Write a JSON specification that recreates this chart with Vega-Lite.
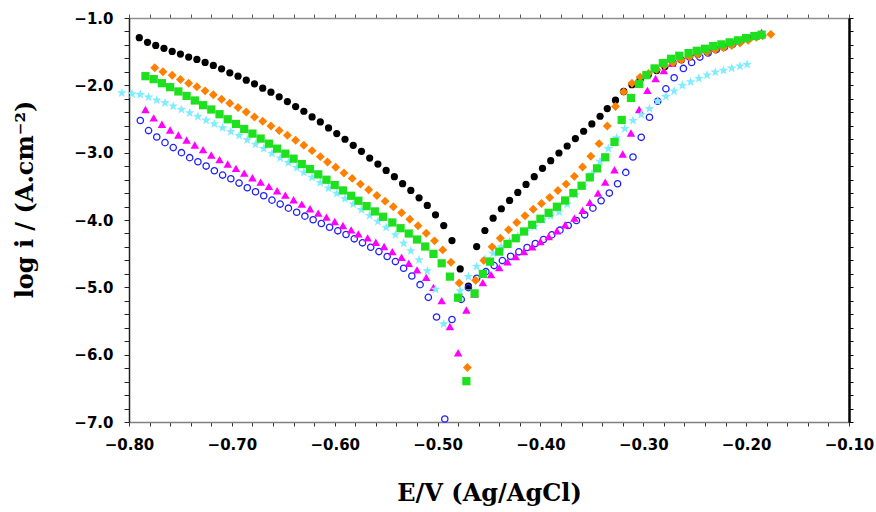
{
  "$schema": "https://vega.github.io/schema/vega-lite/v6.json",
  "width": 720,
  "height": 404,
  "autosize": {"type": "none"},
  "padding": {"left": 129, "top": 18, "right": 27, "bottom": 90},
  "background": "white",
  "config": {"view": {"stroke": null}},
  "datasets": {
    "k": [
      {"E":-0.790,"L":-1.293},{"E":-0.782,"L":-1.362},{"E":-0.774,"L":-1.407},{"E":-0.766,"L":-1.451},{"E":-0.758,"L":-1.496},{"E":-0.750,"L":-1.536},{"E":-0.742,"L":-1.581},{"E":-0.734,"L":-1.615},{"E":-0.726,"L":-1.660},{"E":-0.718,"L":-1.704},{"E":-0.710,"L":-1.755},{"E":-0.702,"L":-1.814},{"E":-0.694,"L":-1.864},{"E":-0.686,"L":-1.923},{"E":-0.678,"L":-1.978},{"E":-0.670,"L":-2.042},{"E":-0.662,"L":-2.102},{"E":-0.654,"L":-2.171},{"E":-0.646,"L":-2.241},{"E":-0.638,"L":-2.315},{"E":-0.630,"L":-2.385},{"E":-0.622,"L":-2.469},{"E":-0.614,"L":-2.544},{"E":-0.606,"L":-2.633},{"E":-0.598,"L":-2.717},{"E":-0.590,"L":-2.801},{"E":-0.582,"L":-2.891},{"E":-0.574,"L":-2.980},{"E":-0.566,"L":-3.080},{"E":-0.558,"L":-3.169},{"E":-0.550,"L":-3.263},{"E":-0.542,"L":-3.357},{"E":-0.534,"L":-3.461},{"E":-0.526,"L":-3.561},{"E":-0.518,"L":-3.670},{"E":-0.510,"L":-3.784},{"E":-0.502,"L":-3.923},{"E":-0.494,"L":-4.082},{"E":-0.486,"L":-4.305},{"E":-0.478,"L":-4.727},{"E":-0.470,"L":-4.980},{"E":-0.462,"L":-4.394},{"E":-0.454,"L":-4.156},{"E":-0.446,"L":-3.973},{"E":-0.438,"L":-3.833},{"E":-0.430,"L":-3.710},{"E":-0.422,"L":-3.590},{"E":-0.414,"L":-3.471},{"E":-0.406,"L":-3.357},{"E":-0.398,"L":-3.233},{"E":-0.390,"L":-3.119},{"E":-0.382,"L":-3.005},{"E":-0.374,"L":-2.901},{"E":-0.366,"L":-2.791},{"E":-0.358,"L":-2.682},{"E":-0.350,"L":-2.573},{"E":-0.342,"L":-2.459},{"E":-0.335,"L":-2.345},{"E":-0.327,"L":-2.221},{"E":-0.319,"L":-2.090},{"E":-0.311,"L":-1.990},{"E":-0.303,"L":-1.910},{"E":-0.295,"L":-1.840},{"E":-0.287,"L":-1.780},{"E":-0.279,"L":-1.720},{"E":-0.271,"L":-1.670},{"E":-0.263,"L":-1.620},{"E":-0.255,"L":-1.580},{"E":-0.247,"L":-1.540},{"E":-0.238,"L":-1.500},{"E":-0.230,"L":-1.460},{"E":-0.222,"L":-1.430},{"E":-0.214,"L":-1.390},{"E":-0.206,"L":-1.350},{"E":-0.198,"L":-1.310},{"E":-0.190,"L":-1.270}
    ],
    "b": [
      {"E":-0.789,"L":-2.523},{"E":-0.781,"L":-2.672},{"E":-0.773,"L":-2.767},{"E":-0.765,"L":-2.851},{"E":-0.757,"L":-2.925},{"E":-0.749,"L":-3.000},{"E":-0.741,"L":-3.074},{"E":-0.733,"L":-3.134},{"E":-0.725,"L":-3.199},{"E":-0.717,"L":-3.268},{"E":-0.709,"L":-3.333},{"E":-0.701,"L":-3.387},{"E":-0.693,"L":-3.452},{"E":-0.685,"L":-3.521},{"E":-0.677,"L":-3.580},{"E":-0.669,"L":-3.640},{"E":-0.661,"L":-3.705},{"E":-0.653,"L":-3.764},{"E":-0.645,"L":-3.824},{"E":-0.637,"L":-3.884},{"E":-0.629,"L":-3.943},{"E":-0.621,"L":-3.997},{"E":-0.613,"L":-4.052},{"E":-0.605,"L":-4.107},{"E":-0.597,"L":-4.161},{"E":-0.589,"L":-4.216},{"E":-0.581,"L":-4.280},{"E":-0.573,"L":-4.339},{"E":-0.565,"L":-4.405},{"E":-0.557,"L":-4.469},{"E":-0.549,"L":-4.543},{"E":-0.541,"L":-4.618},{"E":-0.533,"L":-4.717},{"E":-0.525,"L":-4.831},{"E":-0.517,"L":-4.960},{"E":-0.509,"L":-5.149},{"E":-0.501,"L":-5.441},{"E":-0.493,"L":-6.955},{"E":-0.486,"L":-5.477},{"E":-0.477,"L":-5.179},{"E":-0.470,"L":-5.005},{"E":-0.462,"L":-4.866},{"E":-0.453,"L":-4.767},{"E":-0.445,"L":-4.677},{"E":-0.437,"L":-4.603},{"E":-0.429,"L":-4.539},{"E":-0.421,"L":-4.473},{"E":-0.413,"L":-4.409},{"E":-0.405,"L":-4.350},{"E":-0.397,"L":-4.290},{"E":-0.389,"L":-4.221},{"E":-0.381,"L":-4.151},{"E":-0.373,"L":-4.082},{"E":-0.365,"L":-4.007},{"E":-0.357,"L":-3.923},{"E":-0.349,"L":-3.824},{"E":-0.341,"L":-3.714},{"E":-0.333,"L":-3.600},{"E":-0.325,"L":-3.461},{"E":-0.317,"L":-3.293},{"E":-0.310,"L":-3.065},{"E":-0.302,"L":-2.772},{"E":-0.294,"L":-2.474},{"E":-0.286,"L":-2.236},{"E":-0.278,"L":-2.052},{"E":-0.270,"L":-1.888},{"E":-0.261,"L":-1.749},{"E":-0.253,"L":-1.660},{"E":-0.245,"L":-1.581},{"E":-0.237,"L":-1.520},{"E":-0.229,"L":-1.470},{"E":-0.221,"L":-1.430},{"E":-0.213,"L":-1.390},{"E":-0.205,"L":-1.340},{"E":-0.197,"L":-1.300},{"E":-0.189,"L":-1.270}
    ],
    "m": [
      {"E":-0.784,"L":-2.359},{"E":-0.776,"L":-2.484},{"E":-0.768,"L":-2.578},{"E":-0.760,"L":-2.663},{"E":-0.752,"L":-2.737},{"E":-0.744,"L":-2.812},{"E":-0.736,"L":-2.886},{"E":-0.728,"L":-2.955},{"E":-0.720,"L":-3.035},{"E":-0.712,"L":-3.104},{"E":-0.704,"L":-3.169},{"E":-0.696,"L":-3.233},{"E":-0.688,"L":-3.303},{"E":-0.680,"L":-3.372},{"E":-0.672,"L":-3.437},{"E":-0.664,"L":-3.501},{"E":-0.656,"L":-3.565},{"E":-0.648,"L":-3.631},{"E":-0.640,"L":-3.699},{"E":-0.632,"L":-3.764},{"E":-0.624,"L":-3.833},{"E":-0.616,"L":-3.898},{"E":-0.608,"L":-3.958},{"E":-0.600,"L":-4.022},{"E":-0.592,"L":-4.082},{"E":-0.584,"L":-4.146},{"E":-0.577,"L":-4.205},{"E":-0.568,"L":-4.265},{"E":-0.560,"L":-4.330},{"E":-0.552,"L":-4.394},{"E":-0.544,"L":-4.469},{"E":-0.535,"L":-4.553},{"E":-0.528,"L":-4.643},{"E":-0.520,"L":-4.741},{"E":-0.511,"L":-4.851},{"E":-0.504,"L":-5.000},{"E":-0.496,"L":-5.198},{"E":-0.488,"L":-5.581},{"E":-0.480,"L":-5.972},{"E":-0.472,"L":-5.337},{"E":-0.464,"L":-5.100},{"E":-0.456,"L":-4.930},{"E":-0.448,"L":-4.811},{"E":-0.440,"L":-4.707},{"E":-0.432,"L":-4.622},{"E":-0.424,"L":-4.543},{"E":-0.416,"L":-4.469},{"E":-0.408,"L":-4.399},{"E":-0.400,"L":-4.320},{"E":-0.392,"L":-4.245},{"E":-0.384,"L":-4.161},{"E":-0.376,"L":-4.071},{"E":-0.367,"L":-3.973},{"E":-0.359,"L":-3.858},{"E":-0.352,"L":-3.739},{"E":-0.344,"L":-3.600},{"E":-0.337,"L":-3.437},{"E":-0.328,"L":-3.253},{"E":-0.320,"L":-3.020},{"E":-0.312,"L":-2.708},{"E":-0.304,"L":-2.359},{"E":-0.296,"L":-2.076},{"E":-0.288,"L":-1.898},{"E":-0.280,"L":-1.779},{"E":-0.272,"L":-1.675},{"E":-0.264,"L":-1.591},{"E":-0.256,"L":-1.550},{"E":-0.248,"L":-1.510},{"E":-0.239,"L":-1.470},{"E":-0.231,"L":-1.440},{"E":-0.223,"L":-1.410},{"E":-0.215,"L":-1.370},{"E":-0.207,"L":-1.340},{"E":-0.199,"L":-1.300},{"E":-0.191,"L":-1.260},{"E":-0.185,"L":-1.215}
    ],
    "c": [
      {"E":-0.807,"L":-2.113},{"E":-0.797,"L":-2.127},{"E":-0.789,"L":-2.136},{"E":-0.781,"L":-2.176},{"E":-0.773,"L":-2.221},{"E":-0.765,"L":-2.261},{"E":-0.757,"L":-2.310},{"E":-0.749,"L":-2.359},{"E":-0.741,"L":-2.410},{"E":-0.733,"L":-2.463},{"E":-0.725,"L":-2.519},{"E":-0.717,"L":-2.573},{"E":-0.709,"L":-2.633},{"E":-0.701,"L":-2.687},{"E":-0.693,"L":-2.746},{"E":-0.685,"L":-2.811},{"E":-0.677,"L":-2.876},{"E":-0.669,"L":-2.940},{"E":-0.661,"L":-3.010},{"E":-0.653,"L":-3.080},{"E":-0.645,"L":-3.148},{"E":-0.637,"L":-3.223},{"E":-0.630,"L":-3.293},{"E":-0.622,"L":-3.367},{"E":-0.614,"L":-3.446},{"E":-0.606,"L":-3.526},{"E":-0.598,"L":-3.605},{"E":-0.590,"L":-3.684},{"E":-0.582,"L":-3.764},{"E":-0.574,"L":-3.848},{"E":-0.566,"L":-3.933},{"E":-0.558,"L":-4.022},{"E":-0.550,"L":-4.111},{"E":-0.541,"L":-4.220},{"E":-0.533,"L":-4.345},{"E":-0.526,"L":-4.459},{"E":-0.518,"L":-4.593},{"E":-0.510,"L":-4.756},{"E":-0.502,"L":-5.030},{"E":-0.494,"L":-5.545},{"E":-0.478,"L":-5.054},{"E":-0.470,"L":-4.841},{"E":-0.462,"L":-4.690},{"E":-0.454,"L":-4.580},{"E":-0.446,"L":-4.494},{"E":-0.438,"L":-4.400},{"E":-0.430,"L":-4.320},{"E":-0.422,"L":-4.240},{"E":-0.414,"L":-4.170},{"E":-0.406,"L":-4.100},{"E":-0.398,"L":-4.000},{"E":-0.390,"L":-3.940},{"E":-0.382,"L":-3.884},{"E":-0.374,"L":-3.764},{"E":-0.366,"L":-3.625},{"E":-0.358,"L":-3.496},{"E":-0.350,"L":-3.318},{"E":-0.342,"L":-3.129},{"E":-0.334,"L":-2.940},{"E":-0.326,"L":-2.782},{"E":-0.318,"L":-2.643},{"E":-0.310,"L":-2.523},{"E":-0.302,"L":-2.434},{"E":-0.294,"L":-2.345},{"E":-0.286,"L":-2.236},{"E":-0.278,"L":-2.166},{"E":-0.270,"L":-2.087},{"E":-0.262,"L":-2.002},{"E":-0.254,"L":-1.948},{"E":-0.246,"L":-1.898},{"E":-0.238,"L":-1.849},{"E":-0.230,"L":-1.804},{"E":-0.222,"L":-1.779},{"E":-0.214,"L":-1.744},{"E":-0.206,"L":-1.715},{"E":-0.199,"L":-1.690}
    ],
    "o": [
      {"E":-0.775,"L":-1.740},{"E":-0.767,"L":-1.799},{"E":-0.758,"L":-1.849},{"E":-0.750,"L":-1.913},{"E":-0.742,"L":-1.968},{"E":-0.734,"L":-2.022},{"E":-0.726,"L":-2.082},{"E":-0.718,"L":-2.141},{"E":-0.710,"L":-2.206},{"E":-0.702,"L":-2.265},{"E":-0.694,"L":-2.330},{"E":-0.686,"L":-2.395},{"E":-0.678,"L":-2.469},{"E":-0.670,"L":-2.533},{"E":-0.662,"L":-2.603},{"E":-0.654,"L":-2.672},{"E":-0.646,"L":-2.742},{"E":-0.638,"L":-2.816},{"E":-0.630,"L":-2.891},{"E":-0.622,"L":-2.970},{"E":-0.614,"L":-3.059},{"E":-0.607,"L":-3.139},{"E":-0.599,"L":-3.218},{"E":-0.591,"L":-3.303},{"E":-0.583,"L":-3.382},{"E":-0.575,"L":-3.467},{"E":-0.567,"L":-3.550},{"E":-0.559,"L":-3.635},{"E":-0.551,"L":-3.720},{"E":-0.543,"L":-3.803},{"E":-0.535,"L":-3.893},{"E":-0.527,"L":-3.988},{"E":-0.519,"L":-4.086},{"E":-0.511,"L":-4.196},{"E":-0.503,"L":-4.310},{"E":-0.495,"L":-4.444},{"E":-0.487,"L":-4.628},{"E":-0.479,"L":-4.935},{"E":-0.471,"L":-6.191},{"E":-0.463,"L":-4.896},{"E":-0.455,"L":-4.603},{"E":-0.447,"L":-4.399},{"E":-0.439,"L":-4.271},{"E":-0.431,"L":-4.146},{"E":-0.423,"L":-4.037},{"E":-0.415,"L":-3.938},{"E":-0.407,"L":-3.839},{"E":-0.399,"L":-3.754},{"E":-0.391,"L":-3.665},{"E":-0.383,"L":-3.561},{"E":-0.375,"L":-3.467},{"E":-0.367,"L":-3.352},{"E":-0.359,"L":-3.214},{"E":-0.351,"L":-3.054},{"E":-0.343,"L":-2.866},{"E":-0.335,"L":-2.603},{"E":-0.327,"L":-2.315},{"E":-0.319,"L":-2.097},{"E":-0.311,"L":-1.968},{"E":-0.303,"L":-1.878},{"E":-0.295,"L":-1.824},{"E":-0.287,"L":-1.764},{"E":-0.279,"L":-1.704},{"E":-0.271,"L":-1.665},{"E":-0.263,"L":-1.625},{"E":-0.255,"L":-1.581},{"E":-0.247,"L":-1.541},{"E":-0.238,"L":-1.506},{"E":-0.230,"L":-1.471},{"E":-0.222,"L":-1.442},{"E":-0.214,"L":-1.407},{"E":-0.206,"L":-1.372},{"E":-0.198,"L":-1.332},{"E":-0.190,"L":-1.287},{"E":-0.184,"L":-1.265},{"E":-0.176,"L":-1.243}
    ],
    "g": [
      {"E":-0.784,"L":-1.864},{"E":-0.776,"L":-1.908},{"E":-0.768,"L":-1.968},{"E":-0.760,"L":-2.027},{"E":-0.752,"L":-2.091},{"E":-0.744,"L":-2.157},{"E":-0.736,"L":-2.225},{"E":-0.728,"L":-2.295},{"E":-0.720,"L":-2.359},{"E":-0.712,"L":-2.429},{"E":-0.704,"L":-2.504},{"E":-0.696,"L":-2.573},{"E":-0.688,"L":-2.648},{"E":-0.680,"L":-2.717},{"E":-0.672,"L":-2.791},{"E":-0.664,"L":-2.866},{"E":-0.656,"L":-2.940},{"E":-0.648,"L":-3.015},{"E":-0.640,"L":-3.089},{"E":-0.632,"L":-3.169},{"E":-0.624,"L":-3.243},{"E":-0.616,"L":-3.322},{"E":-0.608,"L":-3.402},{"E":-0.600,"L":-3.481},{"E":-0.592,"L":-3.561},{"E":-0.584,"L":-3.640},{"E":-0.577,"L":-3.714},{"E":-0.569,"L":-3.794},{"E":-0.561,"L":-3.873},{"E":-0.553,"L":-3.952},{"E":-0.544,"L":-4.037},{"E":-0.536,"L":-4.122},{"E":-0.528,"L":-4.201},{"E":-0.520,"L":-4.290},{"E":-0.512,"L":-4.394},{"E":-0.504,"L":-4.503},{"E":-0.496,"L":-4.643},{"E":-0.488,"L":-4.841},{"E":-0.480,"L":-5.154},{"E":-0.472,"L":-6.394},{"E":-0.464,"L":-5.090},{"E":-0.456,"L":-4.801},{"E":-0.449,"L":-4.618},{"E":-0.440,"L":-4.469},{"E":-0.432,"L":-4.355},{"E":-0.424,"L":-4.271},{"E":-0.416,"L":-4.171},{"E":-0.408,"L":-4.071},{"E":-0.400,"L":-3.982},{"E":-0.392,"L":-3.893},{"E":-0.384,"L":-3.803},{"E":-0.376,"L":-3.710},{"E":-0.368,"L":-3.600},{"E":-0.360,"L":-3.491},{"E":-0.352,"L":-3.367},{"E":-0.345,"L":-3.233},{"E":-0.337,"L":-3.069},{"E":-0.328,"L":-2.841},{"E":-0.321,"L":-2.514},{"E":-0.312,"L":-2.187},{"E":-0.304,"L":-1.978},{"E":-0.297,"L":-1.849},{"E":-0.289,"L":-1.749},{"E":-0.281,"L":-1.670},{"E":-0.273,"L":-1.606},{"E":-0.265,"L":-1.561},{"E":-0.256,"L":-1.521},{"E":-0.248,"L":-1.487},{"E":-0.240,"L":-1.457},{"E":-0.232,"L":-1.417},{"E":-0.224,"L":-1.392},{"E":-0.216,"L":-1.362},{"E":-0.208,"L":-1.332},{"E":-0.200,"L":-1.298},{"E":-0.192,"L":-1.268},{"E":-0.185,"L":-1.248}
    ]
  },
  "resolve": {"axis": {"x": "independent", "y": "independent"}},
  "layer": [
    {
      "data": {"name": "k"},
      "mark": {"type": "point", "shape": "circle", "filled": true, "color": "#000000", "size": 52, "opacity": 1},
      "encoding": {
        "x": {"field": "E", "type": "quantitative",
          "scale": {"domain": [-0.8, -0.1], "nice": false, "zero": false},
          "axis": {"orient": "bottom", "title": "E/V (Ag/AgCl)",
            "values": [-0.8,-0.78,-0.76,-0.74,-0.72,-0.7,-0.68,-0.66,-0.64,-0.62,-0.6,-0.58,-0.56,-0.54,-0.52,-0.5,-0.48,-0.46,-0.44,-0.42,-0.4,-0.38,-0.36,-0.34,-0.32,-0.3,-0.28,-0.26,-0.24,-0.22,-0.2,-0.18,-0.16,-0.14,-0.12,-0.1],
            "labelExpr": "abs(datum.value*10 - round(datum.value*10)) < 0.001 ? format(datum.value, '.2f') : ''",
            "grid": false, "domainColor": "#808080", "domainWidth": 1.5, "tickColor": "#333333", "tickSize": 4, "tickWidth": 1,
            "labelFont": "DejaVu Sans", "labelFontWeight": "bold", "labelFontSize": 15, "labelColor": "#000000", "labelPadding": 11,
            "labelFlush": false, "labelOverlap": false, "labelBound": false,
            "titleFont": "DejaVu Serif", "titleFontWeight": "bold", "titleFontSize": 24, "titleColor": "#000000",
            "titleY": 71, "titleBaseline": "middle"}},
        "y": {"field": "L", "type": "quantitative",
          "scale": {"domain": [-7, -1], "nice": false, "zero": false},
          "axis": {"orient": "left", "title": "log i / (A.cm⁻²)",
            "values": [-7,-6.8,-6.6,-6.4,-6.2,-6,-5.8,-5.6,-5.4,-5.2,-5,-4.8,-4.6,-4.4,-4.2,-4,-3.8,-3.6,-3.4,-3.2,-3,-2.8,-2.6,-2.4,-2.2,-2,-1.8,-1.6,-1.4,-1.2,-1],
            "labelExpr": "abs(datum.value - round(datum.value)) < 0.001 ? format(datum.value, '.1f') : ''",
            "grid": false, "domainColor": "#222222", "domainWidth": 1.5, "tickColor": "#222222", "tickSize": 5, "tickWidth": 1,
            "labelFont": "DejaVu Sans", "labelFontWeight": "bold", "labelFontSize": 15, "labelColor": "#000000", "labelPadding": 11,
            "labelFlush": false, "labelOverlap": false, "labelBound": false,
            "titleFont": "DejaVu Serif", "titleFontWeight": "bold", "titleFontSize": 24, "titleColor": "#000000",
            "titleX": -104, "titleY": 181, "titleAngle": -90, "titleAlign": "center", "titleBaseline": "middle"}}
      }
    },
    {
      "data": {"name": "b"},
      "mark": {"type": "point", "shape": "circle", "filled": false, "stroke": "#1f1fff", "strokeWidth": 1.3, "size": 40, "opacity": 1},
      "encoding": {
        "x": {"field": "E", "type": "quantitative", "scale": {"domain": [-0.8, -0.1], "nice": false, "zero": false},
          "axis": {"orient": "top", "title": null, "labels": false,
            "values": [-0.8,-0.78,-0.76,-0.74,-0.72,-0.7,-0.68,-0.66,-0.64,-0.62,-0.6,-0.58,-0.56,-0.54,-0.52,-0.5,-0.48,-0.46,-0.44,-0.42,-0.4,-0.38,-0.36,-0.34,-0.32,-0.3,-0.28,-0.26,-0.24,-0.22,-0.2,-0.18,-0.16,-0.14,-0.12,-0.1],
            "grid": false, "domainColor": "#909090", "domainWidth": 1.5, "tickColor": "#555555", "tickSize": 4, "tickWidth": 1}},
        "y": {"field": "L", "type": "quantitative", "scale": {"domain": [-7, -1], "nice": false, "zero": false},
          "axis": {"orient": "right", "title": null, "labels": false,
            "values": [-7,-6.8,-6.6,-6.4,-6.2,-6,-5.8,-5.6,-5.4,-5.2,-5,-4.8,-4.6,-4.4,-4.2,-4,-3.8,-3.6,-3.4,-3.2,-3,-2.8,-2.6,-2.4,-2.2,-2,-1.8,-1.6,-1.4,-1.2,-1],
            "grid": false, "domainColor": "#000000", "domainWidth": 2.5, "tickColor": "#000000", "tickSize": 4, "tickWidth": 1}}
      }
    },
    {
      "data": {"name": "m"},
      "mark": {"type": "point", "shape": "triangle-up", "filled": true, "color": "#ff00ff", "size": 72, "opacity": 1},
      "encoding": {
        "x": {"field": "E", "type": "quantitative", "scale": {"domain": [-0.8, -0.1], "nice": false, "zero": false}, "axis": null},
        "y": {"field": "L", "type": "quantitative", "scale": {"domain": [-7, -1], "nice": false, "zero": false}, "axis": null}
      }
    },
    {
      "data": {"name": "c"},
      "mark": {"type": "point", "shape": "M0,-1L0.235,-0.324L0.951,-0.309L0.38,0.124L0.588,0.809L0,0.4L-0.588,0.809L-0.38,0.124L-0.951,-0.309L-0.235,-0.324Z", "filled": true, "color": "#80ecff", "size": 105, "opacity": 1},
      "encoding": {
        "x": {"field": "E", "type": "quantitative", "scale": {"domain": [-0.8, -0.1], "nice": false, "zero": false}, "axis": null},
        "y": {"field": "L", "type": "quantitative", "scale": {"domain": [-7, -1], "nice": false, "zero": false}, "axis": null}
      }
    },
    {
      "data": {"name": "o"},
      "mark": {"type": "point", "shape": "diamond", "filled": true, "color": "#ff8000", "size": 80, "opacity": 1},
      "encoding": {
        "x": {"field": "E", "type": "quantitative", "scale": {"domain": [-0.8, -0.1], "nice": false, "zero": false}, "axis": null},
        "y": {"field": "L", "type": "quantitative", "scale": {"domain": [-7, -1], "nice": false, "zero": false}, "axis": null}
      }
    },
    {
      "data": {"name": "g"},
      "mark": {"type": "point", "shape": "square", "filled": true, "color": "#1ee01e", "size": 68, "opacity": 1},
      "encoding": {
        "x": {"field": "E", "type": "quantitative", "scale": {"domain": [-0.8, -0.1], "nice": false, "zero": false}, "axis": null},
        "y": {"field": "L", "type": "quantitative", "scale": {"domain": [-7, -1], "nice": false, "zero": false}, "axis": null}
      }
    }
  ]
}
